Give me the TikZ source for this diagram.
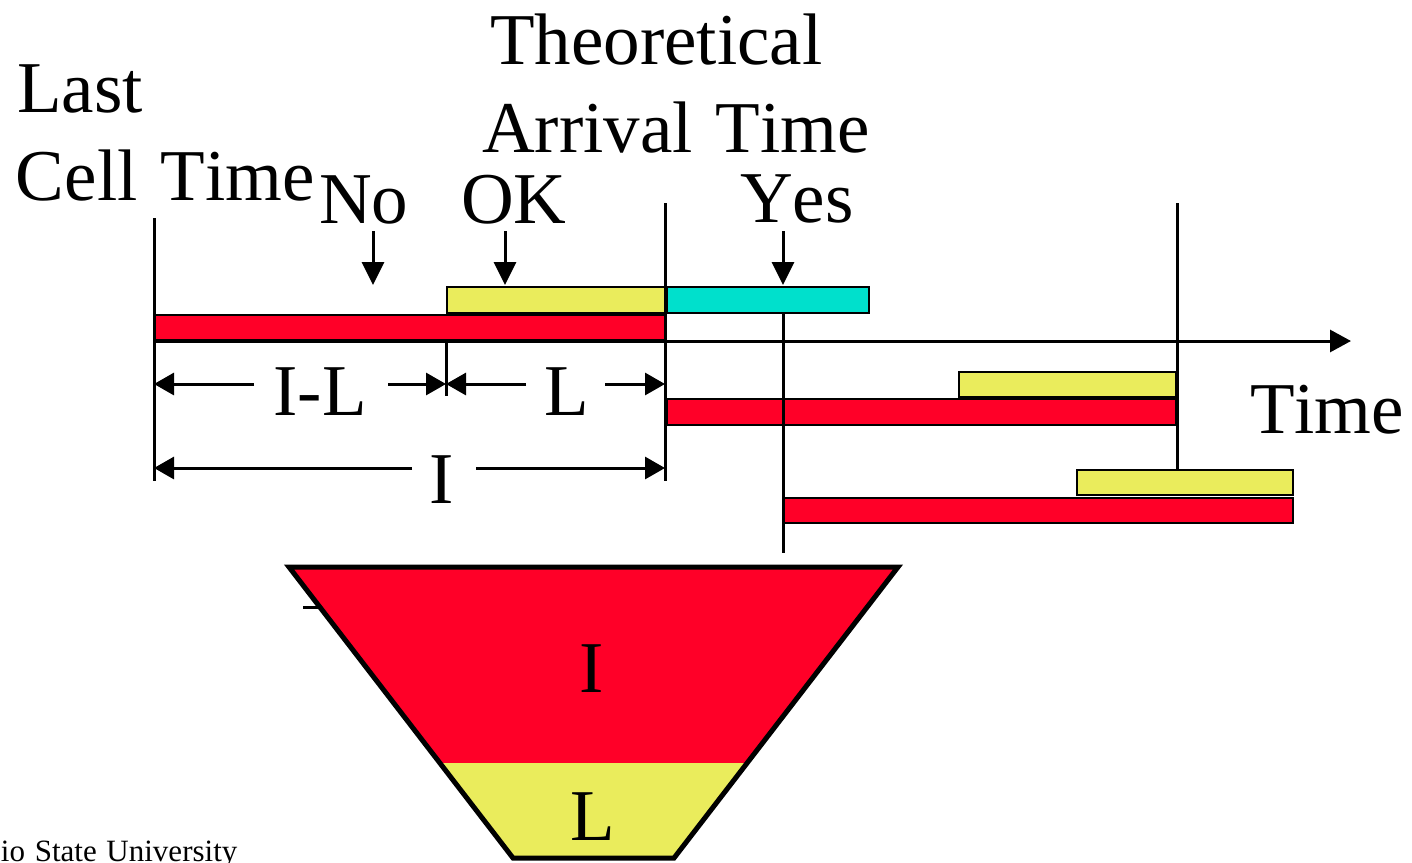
\documentclass[tikz,border=0pt]{standalone}
\usepackage{fontspec}
\setmainfont{Liberation Serif}[Kerning=Off, WordSpace=1.25]
\usetikzlibrary{arrows.meta}
\definecolor{barred}{RGB}{255,0,40}
\definecolor{baryellow}{RGB}{234,236,92}
\definecolor{barcyan}{RGB}{0,224,204}
\begin{document}
\begin{tikzpicture}[x=1pt,y=-1pt,
  big/.style={font=\fontsize{73}{88}\selectfont, inner sep=0pt, outer sep=0pt},
  small/.style={font=\fontsize{31}{37}\selectfont, inner sep=0pt, outer sep=0pt},
  bar/.style={draw=black, line width=2pt},
  guide/.style={line width=3pt},
  dimarrow/.style={line width=3pt, -{Triangle[length=20pt,width=22pt]}},
  downarrow/.style={line width=3pt, -{Triangle[length=23pt,width=22pt]}},
  axisarrow/.style={line width=3pt, -{Triangle[length=21pt,width=22pt]}},
  funnel/.style={draw=black, line width=5pt, line join=miter},
]
\useasboundingbox (0,0) rectangle (1412,862);

% ---- bars ----
\draw[bar, fill=barred]    (154,315) rectangle (665,340);
\draw[bar, fill=baryellow] (447,287) rectangle (665,313);
\draw[bar, fill=barcyan]   (667,287) rectangle (869,313);
\draw[bar, fill=baryellow] (959,372) rectangle (1176,397);
\draw[bar, fill=barred]    (667,399) rectangle (1176,425);
\draw[bar, fill=baryellow] (1077,470) rectangle (1293,495);
\draw[bar, fill=barred]    (783,498) rectangle (1293,523);

% ---- coordinates ----
\coordinate (lctTop) at (154,218);
\coordinate (lctBot) at (154,481);
\coordinate (tatTop) at (665,203);
\coordinate (tatBot) at (665,481);
\coordinate (tickTop) at (446,343);
\coordinate (tickBot) at (446,396);
\coordinate (yesTop) at (783,313);
\coordinate (yesBot) at (783,553);
\coordinate (nxtTop) at (1177,203);
\coordinate (nxtBot) at (1177,469);
\coordinate (axStart) at (154,341);
\coordinate (axEnd) at (1351,341);

% ---- guide lines ----
\draw[guide] (lctTop) -- (lctBot);
\draw[guide] (tatTop) -- (tatBot);
\draw[guide] (tickTop) -- (tickBot);
\draw[guide] (yesTop) -- (yesBot);
\draw[guide] (nxtTop) -- (nxtBot);
\draw[axisarrow] (axStart) -- (axEnd);

% ---- dimension arrows ----
\coordinate (ilA) at (254,384); \coordinate (ilL) at (154,384);
\coordinate (ilB) at (388,384); \coordinate (ilR) at (446,384);
\coordinate (lA) at (526,384);  \coordinate (lL) at (446,384);
\coordinate (lB) at (605,384);  \coordinate (lR) at (665,384);
\coordinate (iA) at (412,468);  \coordinate (iL) at (154,468);
\coordinate (iB) at (476,468);  \coordinate (iR) at (665,468);
\draw[dimarrow] (ilA) -- (ilL);
\draw[dimarrow] (ilB) -- (ilR);
\draw[dimarrow] (lA) -- (lL);
\draw[dimarrow] (lB) -- (lR);
\draw[dimarrow] (iA) -- (iL);
\draw[dimarrow] (iB) -- (iR);

% ---- down arrows ----
\coordinate (noTop) at (373,231);  \coordinate (noTip) at (373,285);
\coordinate (okTop) at (505,231);  \coordinate (okTip) at (505,285);
\coordinate (yesAtop) at (783,231); \coordinate (yesTip) at (783,285);
\draw[downarrow] (noTop) -- (noTip);
\draw[downarrow] (okTop) -- (okTip);
\draw[downarrow] (yesAtop) -- (yesTip);

% ---- texts ----
\node[big, anchor=base west] (last) at (17,112) {Last};
\node[big, anchor=base west] (cell) at (16,200) {Cell Time};
\node[big, anchor=base west] (theo) at (490,64) {Theoretical};
\node[big, anchor=base west] (arr) at (482,152) {Arrival Time};
\node[big, anchor=base west] (no) at (319,223) {No};
\node[big, anchor=base west] (ok) at (461,223) {OK};
\node[big, anchor=base west] (yes) at (740,222) {Yes};
\node[big, anchor=base west] (time) at (1250,433) {Time};
\node[big, anchor=base] (ilab) at (320,415) {I-L};
\node[big, anchor=base] (llab) at (567,415) {L};
\node[big, anchor=base] (itot) at (442,503) {I};

% ---- funnel ----
\fill[barred] (289,567) -- (898,567) -- (749,763) -- (438,763) -- cycle;
\fill[baryellow] (438,763) -- (749,763) -- (674,858) -- (513,858) -- cycle;
\draw[funnel] (289,567) -- (898,567) -- (674,858) -- (513,858) -- cycle;
\draw[line width=3pt] (303,607) -- (318,607);
\node[big, anchor=base] (fi) at (592,692) {I};
\node[big, anchor=base] (fl) at (593,840) {L};

% ---- footer ----
\node[small, anchor=base west] (osu) at (1,861) {io State University};
\end{tikzpicture}
\end{document}
